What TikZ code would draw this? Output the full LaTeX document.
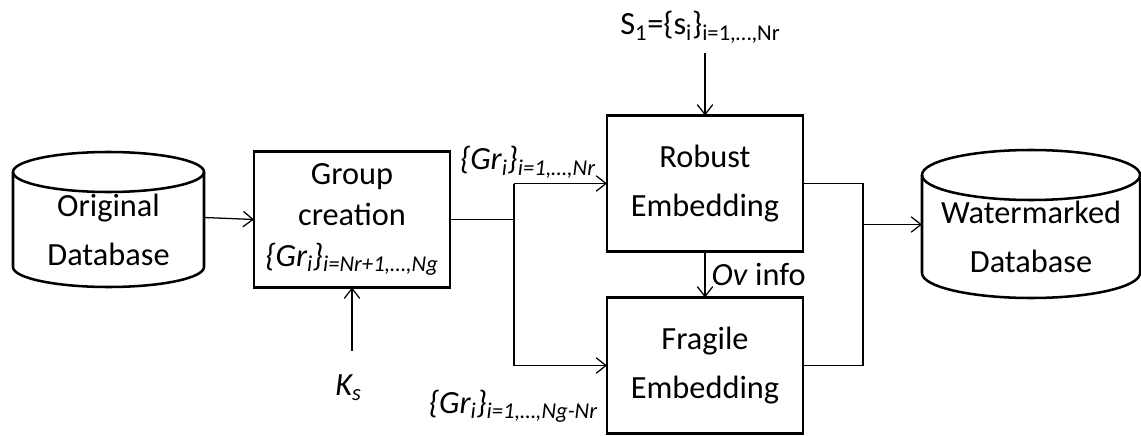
\documentclass[tikz,border=0pt]{standalone}
\usepackage{fontspec}
\setmainfont{Carlito}
\usetikzlibrary{calc, arrows.meta}
\newcommand{\drum}[3]{%
  \draw[drumline] (#1.north) ellipse[x radius=#2, y radius=#3];
  \draw[drumline] (#1.north west) -- ($(#1.south west)+(0,#3)$)
    arc[start angle=180, end angle=360, x radius=#2, y radius=#3] -- (#1.north east);
}

\begin{document}
\begin{tikzpicture}[
    block/.style={draw, line width=2pt, minimum width=4.9cm, minimum height=3.4cm,
                  align=center, outer sep=0pt, font=\fontsize{23}{35}\selectfont},
    dbase/.style={align=center, outer sep=0pt, inner sep=0pt, font=\fontsize{23}{35}\selectfont},
    drumline/.style={line width=1.8pt},
    link/.style={line width=0.9pt},
    arr/.style={link, -{Straight Barb[length=7pt,width=11pt]}},
    lbl/.style={inner sep=0pt, font=\fontsize{23}{28}\selectfont}]
  \useasboundingbox (0,0) rectangle (28.525,10.875);
  % databases
  \node[dbase, minimum width=4.775cm, minimum height=2.875cm] (origdb) at (2.7125,5.1375) {Original\\Database};
  \drum{origdb}{2.3875cm}{0.5cm}
  \node[dbase, minimum width=5.45cm, minimum height=3.075cm] (wmdb) at (25.775,4.9625) {Watermarked\\Database};
  \drum{wmdb}{2.725cm}{0.625cm}
  % blocks
  \node[block, font=\fontsize{23}{29}\selectfont] (group) at (8.8,5.3875)
    {Group\\creation\\\textit{\{Gr\textsubscript{i}\}\textsubscript{i=Nr+1,…,Ng}}};
  \node[block] (robust) at (17.625,6.2875) {Robust\\Embedding};
  \node[block] (fragile) at (17.625,1.7375) {Fragile\\Embedding};
  % inputs
  \node[lbl, anchor=base west] (slabel) at (15.5,10.0) {S\textsubscript{1}=\{s\textsubscript{i}\}\textsubscript{i=1,…,Nr}};
  \node[lbl, anchor=base west] (ks) at (8.375,1.0) {\textit{K\textsubscript{s}}};
  \node[lbl, anchor=base east] (grnr) at (14.9,6.625) {\textit{\{Gr\textsubscript{i}\}\textsubscript{i=1,…,Nr}}};
  \node[lbl, anchor=base east] (grngnr) at (14.95,0.55) {\textit{\{Gr\textsubscript{i}\}\textsubscript{i=1,…,Ng-Nr}}};
  \coordinate (split) at (12.85,0 |- group.east);
  \coordinate (join) at (21.575,0 |- robust.east);
  % connectors
  \draw[arr] ([yshift=0.3cm]origdb.east) -- (group.west);
  \draw[link] (group.east) -- (split);
  \draw[arr] (split |- robust.west) -- (robust.west);
  \draw[link] (split |- robust.west) -- (split |- fragile.west);
  \draw[arr] (split |- fragile.west) -- (fragile.west);
  \draw[arr, shorten <=0.25cm] (slabel.south -| robust.north) -- (robust.north);
  \draw[arr, shorten <=0.575cm] (ks.north -| group.south) -- (group.south);
  \draw[arr] (robust.south) -- node[right, inner sep=0.15cm, font=\fontsize{23}{28}\selectfont] (ovinfo) {\textit{Ov} info} (fragile.north);
  \draw[link] (robust.east) -- (join) -- (join |- fragile.east) -- (fragile.east);
  \draw[arr] (join |- wmdb.west) ++(0,0.3) -- ([yshift=0.3cm]wmdb.west);
\end{tikzpicture}
\end{document}
